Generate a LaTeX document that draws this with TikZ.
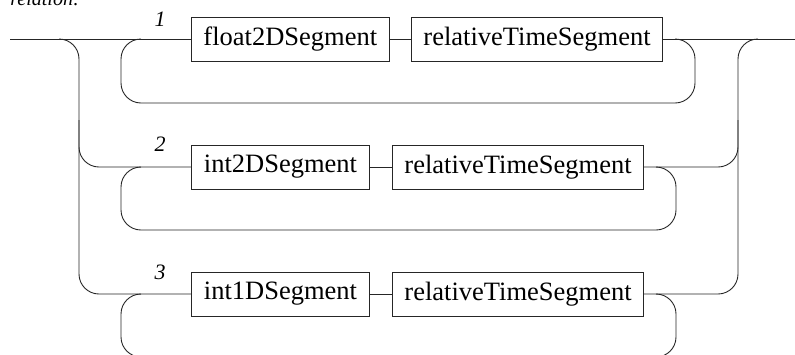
\documentclass[tikz,border=0pt]{standalone}
\usepackage{fontspec}
\setmainfont{Liberation Serif}
\begin{document}
\begin{tikzpicture}[x=1pt,y=-1pt,
  line width=0.9pt,
  term/.style={draw=black!85, line width=0.9pt, rectangle, minimum height=44pt, inner xsep=12pt, anchor=west, font=\fontsize{26.5}{30}\selectfont},
  num/.style={font=\fontsize{22}{24}\selectfont\itshape, inner sep=0pt},
  wire/.style={draw=black!85, rounded corners=20pt}]
\useasboundingbox (0,0) rectangle (795,354);
\node[anchor=base west, font=\fontsize{20}{22}\selectfont\itshape, inner sep=0pt] (title) at (10,5) {relation:};
% entry / exit
\coordinate (in) at (10,39);
\coordinate (out) at (795,39);
% row 1
\node[term, minimum width=197pt] (a1) at (191,39) {float2DSegment};
\node[term, minimum width=251pt] (b1) at (411,39) {relativeTimeSegment};
% row 2
\node[term, minimum width=178pt] (a2) at (191,167) {int2DSegment};
\node[term, minimum width=251pt] (b2) at (392,167) {relativeTimeSegment};
% row 3
\node[term, minimum width=178pt] (a3) at (191,294) {int1DSegment};
\node[term, minimum width=251pt] (b3) at (392,294) {relativeTimeSegment};
% labels
\node[num] (n1) at (160,19) {1};
\node[num] (n2) at (160,144) {2};
\node[num] (n3) at (160,272) {3};
% main line
\draw[wire] (in) -- (a1.west);
\draw[wire] (a1.east) -- (b1.west);
\draw[wire] (b1.east) -- (out);
\draw[wire] (a2.east) -- (b2.west);
\draw[wire] (a3.east) -- (b3.west);
% left branches
\draw[wire] (59,39) -- (79,39) -- (79,294) -- (a3.west);
\draw[wire] (79,120) -- (79,167) -- (a2.west);
% right branches
\draw[wire] (b3.east) -- (738,294) -- (738,39) -- (758,39);
\draw[wire] (b2.east) -- (738,167) -- (738,120);
% loops
\draw[wire] (141,39) -- (121,39) -- (121,103) -- (695,103) -- (695,39) -- (675,39);
\draw[wire] (141,167) -- (121,167) -- (121,230) -- (676,230) -- (676,167) -- (656,167);
\draw[wire] (141,294) -- (121,294) -- (121,357) -- (676,357) -- (676,294) -- (656,294);
\end{tikzpicture}
\end{document}
